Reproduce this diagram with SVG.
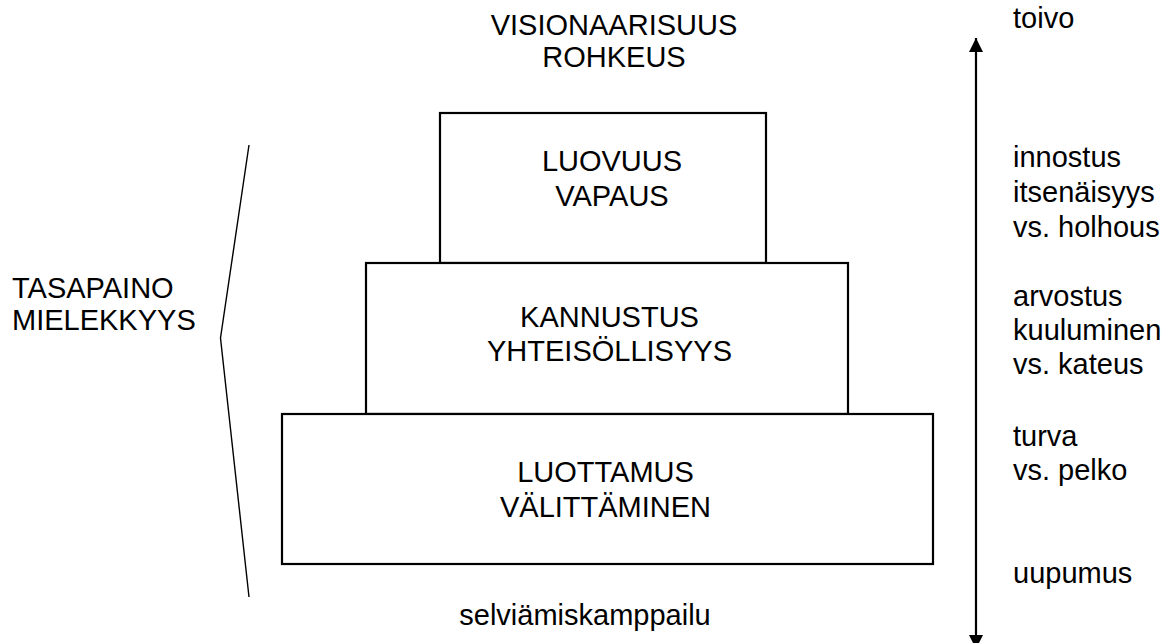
<svg xmlns="http://www.w3.org/2000/svg" width="1172" height="643" viewBox="0 0 1172 643">
<style>
text{font-family:"Liberation Sans",Arial,sans-serif;font-size:29px;fill:#000}
.c{text-anchor:middle}
.box{fill:#fff;stroke:#000;stroke-width:2.2}
.ln{fill:none;stroke:#000;stroke-width:1.4}
.ax{fill:none;stroke:#000;stroke-width:2.2}
</style>
<defs>
<marker id="ah" viewBox="0 0 10 10" refX="10" refY="5" markerWidth="14" markerHeight="14" markerUnits="userSpaceOnUse" orient="auto">
<path d="M0,0 L10,5 L0,10 z" fill="#000"/>
</marker>
</defs>
<rect width="1172" height="643" fill="#fff"/>
<g id="top-label">
<text class="c" x="614" y="35">VISIONAARISUUS</text>
<text class="c" x="614" y="67">ROHKEUS</text>
</g>
<g id="box-luovuus">
<rect class="box" x="440" y="113" width="326" height="150"/>
<text class="c" x="612" y="171">LUOVUUS</text>
<text class="c" x="612" y="206">VAPAUS</text>
</g>
<g id="box-kannustus">
<rect class="box" x="366" y="263" width="482" height="151"/>
<text class="c" x="609.5" y="327">KANNUSTUS</text>
<text class="c" x="609.5" y="361">YHTEISÖLLISYYS</text>
</g>
<g id="box-luottamus">
<rect class="box" x="282" y="414" width="651" height="150"/>
<text class="c" x="605.5" y="482">LUOTTAMUS</text>
<text class="c" x="605.5" y="517">VÄLITTÄMINEN</text>
</g>
<g id="bottom-label">
<text class="c" x="585" y="625">selviämiskamppailu</text>
</g>
<g id="left-label">
<text x="12" y="298">TASAPAINO</text>
<text x="12" y="330">MIELEKKYYS</text>
</g>
<g id="connectors">
<polyline class="ln" points="249,145 220.5,338 249,597"/>
<line class="ax" x1="976" y1="340" x2="976" y2="38" marker-end="url(#ah)"/>
<line class="ax" x1="976" y1="340" x2="976" y2="649" marker-end="url(#ah)"/>
</g>
<g id="right-labels">
<text x="1013" y="28">toivo</text>
<text x="1013" y="167">innostus</text>
<text x="1013" y="202">itsenäisyys</text>
<text x="1013" y="237">vs. holhous</text>
<text x="1013" y="306">arvostus</text>
<text x="1013" y="340">kuuluminen</text>
<text x="1013" y="374">vs. kateus</text>
<text x="1013" y="446">turva</text>
<text x="1013" y="480">vs. pelko</text>
<text x="1013" y="583">uupumus</text>
</g>
</svg>
